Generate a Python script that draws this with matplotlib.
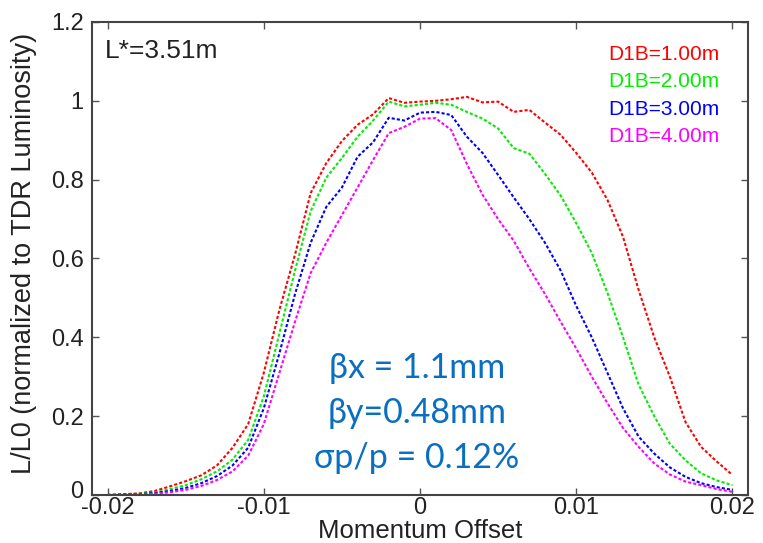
import matplotlib.pyplot as plt
import matplotlib.transforms as mtransforms
import numpy as np

# Data
offset = np.round(np.arange(-0.020, 0.0205, 0.001), 3)

lum_d1b_1 = [0.000, 0.002, 0.004, 0.010, 0.022, 0.035, 0.050, 0.075, 0.120, 0.180,
             0.310, 0.470, 0.610, 0.766, 0.842, 0.898, 0.939, 0.966, 1.007, 0.995,
             0.998, 1.000, 1.004, 1.010, 0.996, 0.998, 0.972, 0.977, 0.945, 0.914,
             0.868, 0.818, 0.749, 0.655, 0.520, 0.400, 0.300, 0.185, 0.122, 0.085,
             0.051]
lum_d1b_2 = [0.000, 0.001, 0.003, 0.006, 0.015, 0.025, 0.040, 0.060, 0.090, 0.140,
             0.250, 0.410, 0.570, 0.720, 0.805, 0.855, 0.909, 0.950, 0.998, 0.986,
             0.990, 0.995, 0.990, 0.972, 0.955, 0.930, 0.880, 0.866, 0.815, 0.760,
             0.690, 0.614, 0.513, 0.400, 0.280, 0.200, 0.130, 0.088, 0.055, 0.037,
             0.025]
lum_d1b_3 = [0.000, 0.001, 0.002, 0.005, 0.010, 0.018, 0.030, 0.048, 0.075, 0.120,
             0.220, 0.360, 0.510, 0.640, 0.731, 0.780, 0.858, 0.895, 0.957, 0.950,
             0.970, 0.972, 0.964, 0.909, 0.868, 0.812, 0.755, 0.700, 0.640, 0.570,
             0.480, 0.400, 0.310, 0.220, 0.148, 0.105, 0.070, 0.046, 0.030, 0.020,
             0.013]
lum_d1b_4 = [0.000, 0.000, 0.001, 0.003, 0.007, 0.013, 0.023, 0.038, 0.060, 0.100,
             0.180, 0.310, 0.440, 0.563, 0.640, 0.710, 0.780, 0.850, 0.918, 0.934,
             0.955, 0.956, 0.926, 0.840, 0.762, 0.700, 0.645, 0.575, 0.510, 0.440,
             0.372, 0.300, 0.233, 0.170, 0.122, 0.080, 0.052, 0.034, 0.025, 0.015,
             0.008]

labels = ["D1B=1.00m", "D1B=2.00m", "D1B=3.00m", "D1B=4.00m"]
colors = ["#ff0000", "#00ee00", "#0000ff", "#ff00ff"]
series = [lum_d1b_1, lum_d1b_2, lum_d1b_3, lum_d1b_4]

xticks = [-0.02, -0.01, 0, 0.01, 0.02]
xticklabels = ["-0.02", "-0.01", "0", "0.01", "0.02"]
yticks = [0, 0.2, 0.4, 0.6, 0.8, 1.0, 1.2]
yticklabels = ["0", "0.2", "0.4", "0.6", "0.8", "1", "1.2"]

params = ["\u03b2x = 1.1mm", "\u03b2y=0.48mm", "\u03c3p/p = 0.12%"]

plt.rcParams['font.family'] = ['Liberation Sans', 'DejaVu Sans']

fig = plt.figure(figsize=(7.63, 5.43), dpi=100)
ax = fig.add_axes([0.1206, 0.0884, 0.8597, 0.8711])

for y, c in zip(series, colors):
    ax.plot(offset, y, color=c, lw=1.5, linestyle=(0, (1.5, 1)))

ax.set_xlim(-0.021, 0.021)
ax.set_ylim(0, 1.2)
ax.set_xticks(xticks)
ax.set_xticklabels(xticklabels)
ax.set_yticks(yticks)
ax.set_yticklabels(yticklabels)
ax.tick_params(direction='in', length=5, width=1, color='#555555',
               top=True, right=True, labelsize=17, labelcolor='#222222')
ax.tick_params(axis='x', pad=1.5)
ax.tick_params(axis='y', pad=6)
for s in ax.spines.values():
    s.set_color('#444444')
    s.set_linewidth(1.5)

# lift the "0" y tick label a little so it clears the x tick labels
zero_lbl = ax.get_yticklabels()[0]
zero_lbl.set_transform(zero_lbl.get_transform() +
                       mtransforms.ScaledTranslation(0, 5 / 100, fig.dpi_scale_trans))

ax.set_xlabel('Momentum Offset', fontsize=18.5, color='#222222')
ax.set_ylabel('L/L0 (normalized to TDR Luminosity)', fontsize=19.5, color='#222222')
ax.xaxis.set_label_coords(0.5, -0.05)
ax.yaxis.set_label_coords(-0.084, 0.51)

ax.text(0.02, 0.965, 'L*=3.51m', transform=ax.transAxes, fontsize=19,
        color='#222222', va='top', ha='left')

for i, (lab, c) in enumerate(zip(labels, colors)):
    ax.text(0.957, 0.952 - i * 0.058, lab, transform=ax.transAxes, fontsize=15,
            color=c, va='top', ha='right')

for i, t in enumerate(params):
    ax.text(-0.0002, 0.268 - i * 0.095, t, fontsize=24.5, color='#0a6fc0',
            ha='center', va='center', family=['Lato', 'DejaVu Sans'],
            transform=ax.get_xaxis_transform())

plt.savefig('out.png', dpi=100)
